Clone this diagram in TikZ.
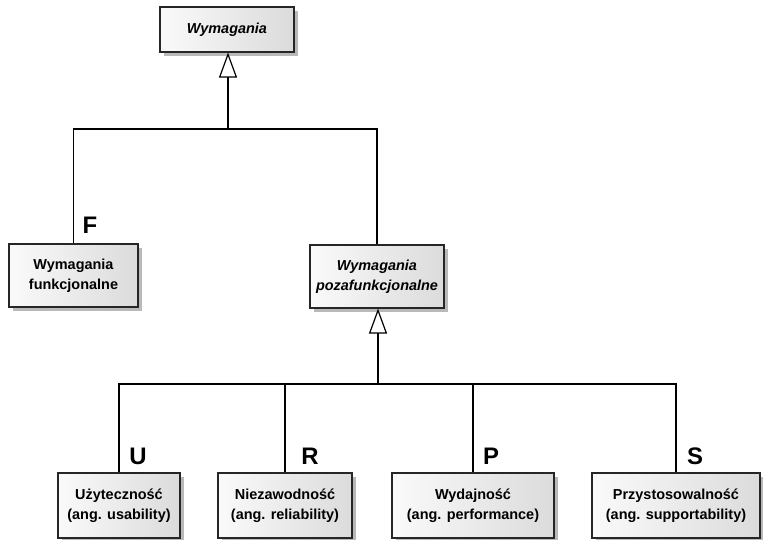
\documentclass[tikz,border=0pt]{standalone}
\usepackage{fontspec}
\setmainfont{Liberation Sans}
\usetikzlibrary{arrows.meta,shadows,calc}
\begin{document}
\begin{tikzpicture}[x=1bp,y=-1bp,
  cls/.style={draw=black!85, line width=1.1bp, rectangle, inner sep=0pt, align=center,
    left color=gray!4, right color=gray!28,
    drop shadow={shadow xshift=4bp, shadow yshift=-4bp, fill=gray!55, opacity=1},
    font=\bfseries\fontsize{14.5}{20}\selectfont},
  conn/.style={draw=black, line width=1.2bp},
  gen/.style={draw=black, line width=1.6bp, -{Triangle[open, length=25bp, width=18bp, line width=1.2bp]}},
  lbl/.style={font=\bfseries\fontsize{24}{24}\selectfont, inner sep=0pt}
]
\useasboundingbox (0,0) rectangle (763,540);
% nodes
\node[cls, minimum width=134bp, minimum height=45bp] (top) at (227,29.5) {\itshape Wymagania};
\node[cls, minimum width=129bp, minimum height=63bp] (f) at (73.5,275.5) {Wymagania\\funkcjonalne};
\node[cls, minimum width=134bp, minimum height=63bp] (nf) at (377,276.5) {\itshape Wymagania\\\itshape pozafunkcjonalne};
\node[cls, minimum width=122bp, minimum height=65bp] (u) at (119,505.5) {Użyteczność\\(ang. usability)};
\node[cls, minimum width=134bp, minimum height=65bp] (r) at (285,505.5) {Niezawodność\\(ang. reliability)};
\node[cls, minimum width=162bp, minimum height=65bp] (p) at (473,505.5) {Wydajność\\(ang. performance)};
\node[cls, minimum width=168bp, minimum height=65bp] (s) at (676,505.5) {Przystosowalność\\(ang. supportability)};
% junctions
\coordinate (j1) at (228,129);
\coordinate (j2) at (378,384);
% connectors
\draw[conn] (f.north) |- (j1);
\draw[conn] (nf.north) |- (j1);
\draw[gen] (j1) -- (j1 |- top.south);
\draw[conn] (u.north) |- (j2);
\draw[conn] (r.north) |- (j2);
\draw[conn] (p.north) |- (j2);
\draw[conn] (s.north) |- (j2);
\draw[gen] (j2) -- (j2 |- nf.south);
% labels
\node[lbl] (lf) at (90,225) {F};
\node[lbl] (lu) at (138,456) {U};
\node[lbl] (lr) at (310,456) {R};
\node[lbl] (lp) at (491,456) {P};
\node[lbl] (ls) at (695,456) {S};
\end{tikzpicture}
\end{document}
